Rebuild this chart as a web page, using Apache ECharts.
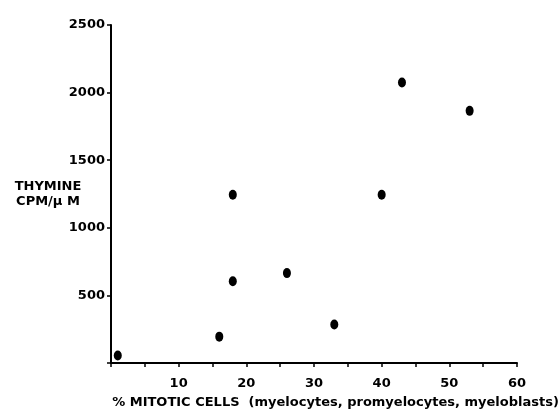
<!DOCTYPE html>
<html>
<head>
<meta charset="utf-8">
<title>thymine vs mitotic cells</title>
<script src="https://cdn.jsdelivr.net/npm/echarts@6/dist/echarts.min.js"></script>
<style>
  html, body { margin: 0; padding: 0; background: #fff; }
  #chart { width: 560px; height: 413px; }
</style>
</head>
<body>
<div id="chart"></div>
<script>
// % mitotic cells (x) and thymine cpm/uM (y)
var mitotic = [1, 16, 18, 18, 26, 33, 40, 43, 53];
var thymine = [55, 195, 605, 1245, 665, 285, 1245, 2075, 1865];
var xTicks = [10, 20, 30, 40, 50, 60];
var yTicks = [500, 1000, 1500, 2000, 2500];

var points = [];
for (var i = 0; i < mitotic.length; i++) {
  points.push([mitotic[i], thymine[i]]);
}

var font = 'DejaVu Sans';
var chart = echarts.init(document.getElementById('chart'));
chart.setOption({
  backgroundColor: '#fff',
  animation: false,
  grid: { left: 111, right: 43, top: 25, bottom: 50, containLabel: false, outerBoundsMode: 'none' },
  xAxis: {
    type: 'value',
    min: 0, max: 60, interval: 5,
    name: '% MITOTIC CELLS  (myelocytes, promyelocytes, myeloblasts)',
    nameLocation: 'middle',
    nameGap: 33,
    nameMoveOverlap: false,
    nameTextStyle: { color: '#000', fontFamily: font, fontWeight: 'bold', fontSize: 13, padding: [0, 0, 0, 43] },
    axisLine: { lineStyle: { color: '#000', width: 2 } },
    axisTick: { length: 4, lineStyle: { color: '#000', width: 1.5 } },
    axisLabel: {
      color: '#000', fontFamily: font, fontWeight: 'bold', fontSize: 13, margin: 14,
      formatter: function (v) { return xTicks.indexOf(v) >= 0 ? String(v) : ''; }
    },
    splitLine: { show: false }
  },
  yAxis: {
    type: 'value',
    min: 0, max: 2500, interval: 500,
    name: 'THYMINE\nCPM/\u03bc M',
    nameLocation: 'middle',
    nameRotate: 0,
    nameGap: 63,
    nameMoveOverlap: false,
    nameTextStyle: {
      color: '#000', fontFamily: font, fontWeight: 'bold', fontSize: 13,
      align: 'center', verticalAlign: 'middle', lineHeight: 15, padding: [0, 0, 7, 0]
    },
    axisLine: { lineStyle: { color: '#000', width: 2 } },
    axisTick: { length: 4, lineStyle: { color: '#000', width: 1.5 } },
    axisLabel: {
      color: '#000', fontFamily: font, fontWeight: 'bold', fontSize: 13, margin: 6,
      padding: [0, 0, 6, 0],
      formatter: function (v) { return yTicks.indexOf(v) >= 0 ? String(v) : ''; }
    },
    splitLine: { show: false }
  },
  series: [{
    type: 'scatter',
    data: points,
    symbol: 'circle',
    symbolSize: [8, 10],
    itemStyle: { color: '#000', opacity: 1 }
  }]
});
</script>
</body>
</html>
